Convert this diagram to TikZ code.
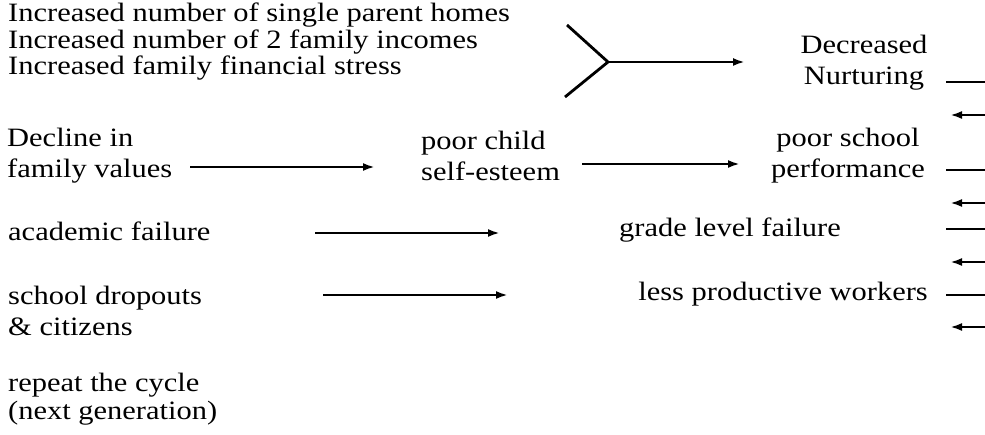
\documentclass[tikz,border=0pt]{standalone}
\usepackage{fontspec}
\setmainfont[FakeStretch=1.15]{Liberation Serif}
\usetikzlibrary{arrows.meta}
\tikzstyle{txt}=[inner sep=0pt,align=left,font=\fontsize{26.5}{31}\selectfont]
\tikzstyle{ctr}=[inner sep=0pt,align=center,font=\fontsize{26.5}{31}\selectfont]
\tikzstyle{flow}=[line width=2.8pt,-{Latex[length=12pt,width=8pt]}]
\tikzstyle{tick}=[line width=2.8pt]

\begin{document}
\begin{tikzpicture}[x=1pt,y=-1pt]
    \useasboundingbox (0,0) rectangle (985,435);
    % text blocks
    \node [style=txt,anchor=west,font=\fontsize{26.5}{26.5}\selectfont] (causes) at (8,42) {Increased number of single parent homes\\Increased number of 2 family incomes\\Increased family financial stress};
    \node [style=ctr] (nurture) at (864,63) {Decreased\\Nurturing};
    \node [style=txt,anchor=west] (values) at (7,156) {Decline in\\family values};
    \node [style=txt,anchor=west] (esteem) at (421,156) {poor child\\self-esteem};
    \node [style=ctr] (school) at (848,156) {poor school\\performance};
    \node [style=txt,anchor=west] (academic) at (8,231) {academic failure};
    \node [style=txt,anchor=west] (grade) at (619,230) {grade level failure};
    \node [style=txt,anchor=west] (dropouts) at (8,311) {school dropouts\\\& citizens};
    \node [style=txt,anchor=east] (workers) at (928,294) {less productive workers};
    \node [style=txt,anchor=west,font=\fontsize{26.5}{28}\selectfont] (repeat) at (8,399) {repeat the cycle\\(next generation)};
    % connector ends
    \coordinate (yup) at (567,25);
    \coordinate (ydown) at (565,97);
    \coordinate (yjoin) at (608,62);
    \coordinate (yend) at (745,62);
    \coordinate (a1) at (190,167);
    \coordinate (b1) at (375,167);
    \coordinate (a2) at (582,164);
    \coordinate (b2) at (740,164);
    \coordinate (a3) at (315,233);
    \coordinate (b3) at (500,233);
    \coordinate (a4) at (323,295);
    \coordinate (b4) at (508,295);
    \draw [style=tick] (yup) to (yjoin);
    \draw [style=tick] (ydown) to (yjoin);
    \draw [style=flow] (yjoin) to (yend);
    \draw [style=flow] (a1) to (b1);
    \draw [style=flow] (a2) to (b2);
    \draw [style=flow] (a3) to (b3);
    \draw [style=flow] (a4) to (b4);
    % marks at the right edge
    \foreach \y in {82,170,229,295} {
        \coordinate (ts) at (946,\y);
        \coordinate (te) at (985,\y);
        \draw [style=tick] (ts) to (te);
    }
    \foreach \y in {115,203,262,327} {
        \coordinate (bs) at (985,\y);
        \coordinate (be) at (950,\y);
        \draw [style=flow] (bs) to (be);
    }
\end{tikzpicture}
\end{document}
